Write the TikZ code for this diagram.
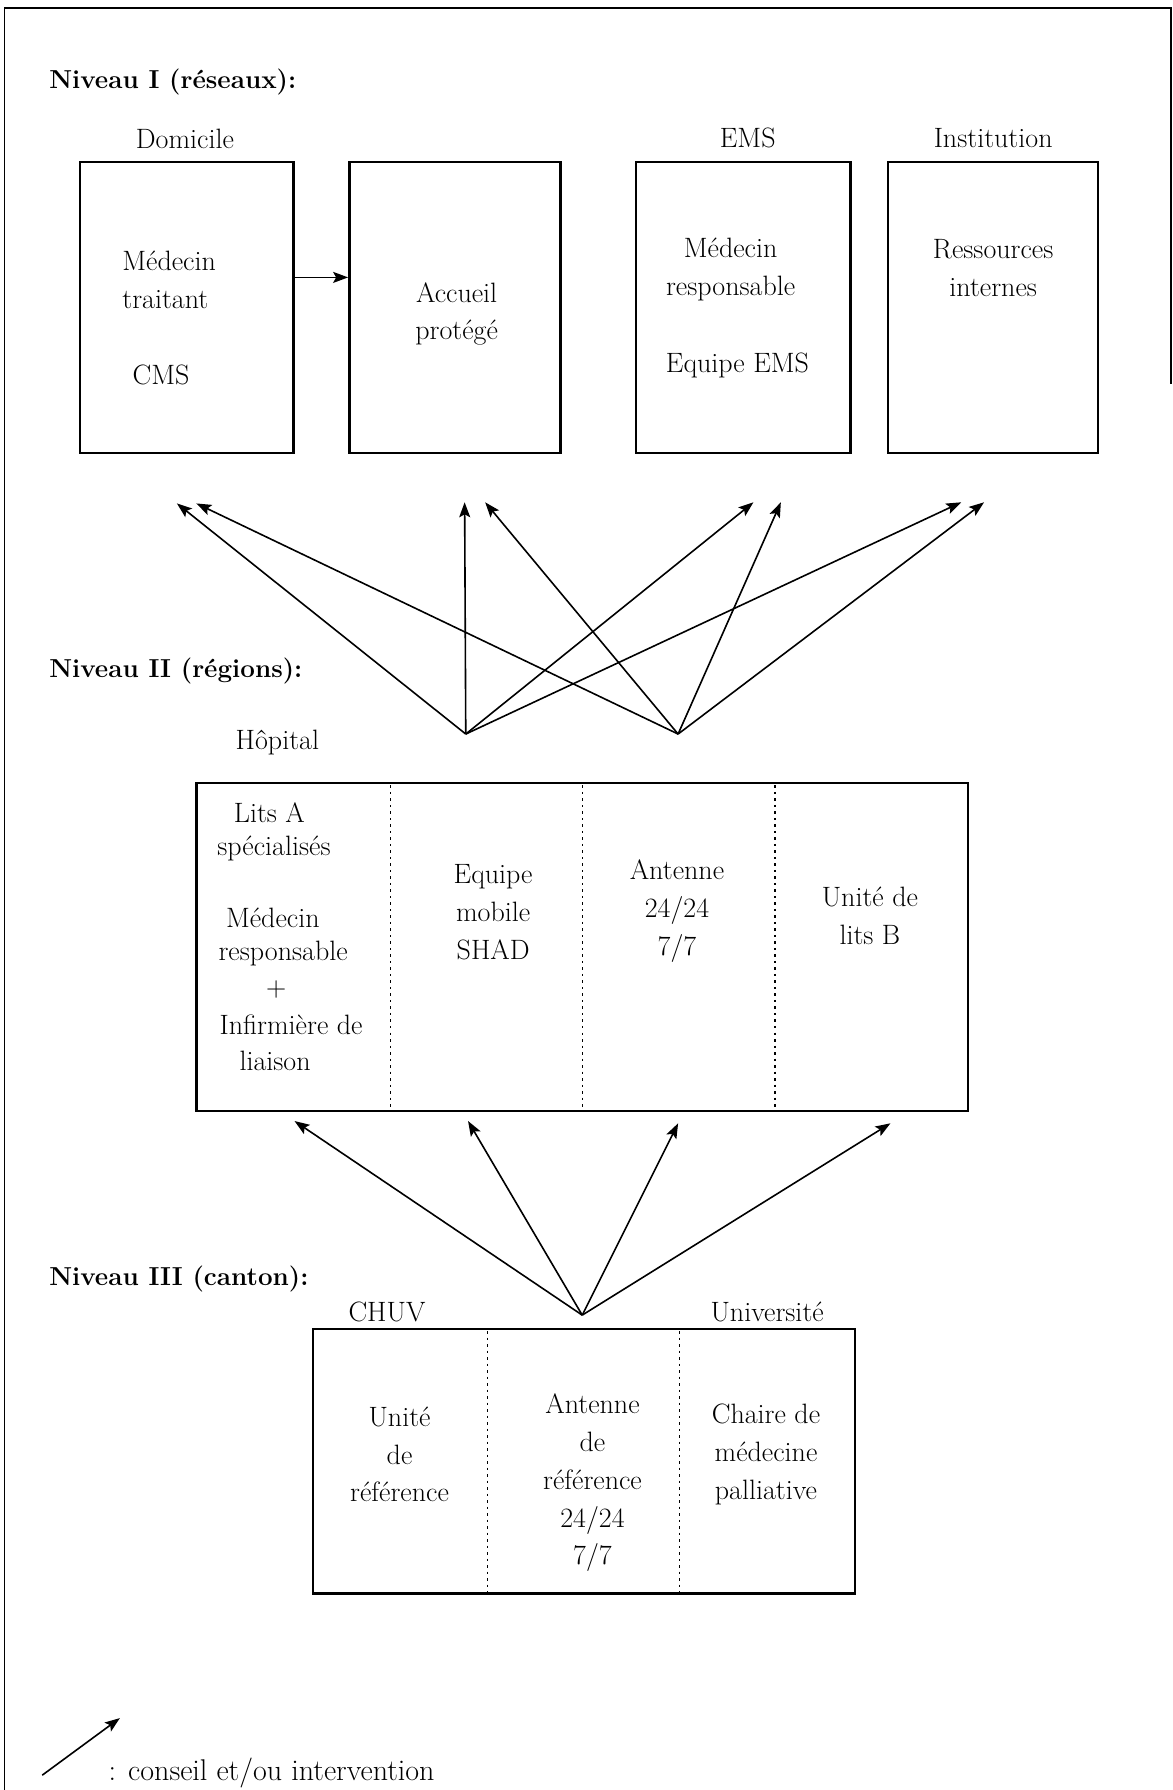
\documentclass[tikz,border=0pt]{standalone}
\usetikzlibrary{arrows.meta,fit}
\begin{document}
\begin{tikzpicture}[x=1.1412pt,y=-1.1412pt,
  txt/.style={font=\fontsize{28}{37.7}\selectfont, align=center, inner sep=0pt},
  head/.style={font=\fontsize{26}{30}\selectfont\bfseries, anchor=west, inner sep=0pt},
  box/.style={draw, line width=2.4pt, inner sep=0pt},
  divider/.style={line width=1.3pt, dash pattern=on 2.5pt off 4pt},
  arr/.style={line width=1.6pt, -{Stealth[length=15pt,width=11pt,inset=3pt]}},
  frame/.style={line width=1.8pt}]
\useasboundingbox (0,0) rectangle (1027,1568);

% frame
\draw[frame] (4,1568) -- (4,7) -- (1026,7) -- (1026,336);

% ---------- Niveau I ----------
\node[head] (h1) at (43,72) {Niveau I (réseaux):};

\node[txt] (ldom) at (162,122) {Domicile};
\node[txt] (lems) at (655,121) {EMS};
\node[txt] (linst) at (870,121) {Institution};

\node[box, fit={(70,142) (257,397)}] (dom) {};
\node[box, fit={(306,142) (491,397)}] (acc) {};
\node[box, fit={(557,142) (745,397)}] (ems) {};
\node[box, fit={(778,142) (962,397)}] (inst) {};

\node[txt, align=left, anchor=west] (domtxt) at (107,245) {Médecin\\traitant};
\node[txt] (cms) at (141,328) {CMS};
\node[txt] (acctxt) at (400,275) {Accueil\\protégé};
\node[txt] (emstxt) at (640,236) {Médecin\\responsable};
\node[txt] (emseq) at (646,320) {Equipe EMS};
\node[txt] (insttxt) at (870,235) {Ressources\\internes};

\coordinate (a1) at (280,243);
\draw[arr] (a1 -| dom.east) -- (a1 -| acc.west);

% ---------- arrows Niveau II -> I ----------
\coordinate (s1) at (408,643);
\coordinate (s2) at (594,643);
\coordinate (t1) at (155,441);
\coordinate (t2) at (172,441);
\coordinate (t3) at (407,440);
\coordinate (t4) at (425,440);
\coordinate (t5) at (660,440);
\coordinate (t6) at (684,440);
\coordinate (t7) at (842,440);
\coordinate (t8) at (862,440);
\foreach \t in {t1,t3,t5,t7} \draw[arr] (s1) -- (\t);
\foreach \t in {t2,t4,t6,t8} \draw[arr] (s2) -- (\t);

% ---------- Niveau II ----------
\node[head] (h2) at (43,588) {Niveau II (régions):};
\node[txt] (lhop) at (243,650) {Hôpital};
\node[box, fit={(172,686) (848,973)}] (hop) {};
\foreach \x in {342,510,679} \draw[divider] (\x,688) -- (\x,971);

\node[txt] (hc1a) at (236,712) {Lits A};
\node[txt] (hc1b) at (240,743) {spécialisés};
\node[txt] (hc1c) at (239,804) {Médecin};
\node[txt] (hc1d) at (248,835) {responsable};
\node[txt] (hc1e) at (242,867) {+};
\node[txt] (hc1f) at (255,898) {Infirmière de};
\node[txt] (hc1g) at (241,929) {liaison};
\node[txt] (hc2) at (432,799) {Equipe\\mobile\\SHAD};
\node[txt] (hc3) at (593,798) {Antenne\\24/24\\7/7};
\node[txt] (hc4) at (762,802) {Unité de\\lits B};

% ---------- arrows Niveau III -> II ----------
\coordinate (s3) at (510,1152);
\coordinate (u1) at (258,982);
\coordinate (u2) at (410,982);
\coordinate (u3) at (594,984);
\coordinate (u4) at (780,984);
\foreach \t in {u1,u2,u3,u4} \draw[arr] (s3) -- (\t);

% ---------- Niveau III ----------
\node[head] (h3) at (43,1120) {Niveau III (canton):};
\node[txt] (lchuv) at (339,1149) {CHUV};
\node[txt] (luni) at (672,1149) {Université};
\node[box, fit={(274,1164) (749,1396)}] (chuv) {};
\foreach \x in {427,595} \draw[divider] (\x,1166) -- (\x,1394);

\node[txt] (cc1) at (350,1274) {Unité\\de\\référence};
\node[txt] (cc2) at (519,1299) {Antenne\\de\\référence\\24/24\\7/7};
\node[txt] (cc3) at (671,1274) {Chaire de\\médecine\\palliative};

% ---------- legend ----------
\coordinate (l1) at (37,1555);
\coordinate (l2) at (105,1505);
\draw[arr] (l1) -- (l2);
\node[txt, anchor=west, font=\fontsize{30}{36}\selectfont] (legtxt) at (95,1553) {: conseil et/ou intervention};
\end{tikzpicture}
\end{document}
